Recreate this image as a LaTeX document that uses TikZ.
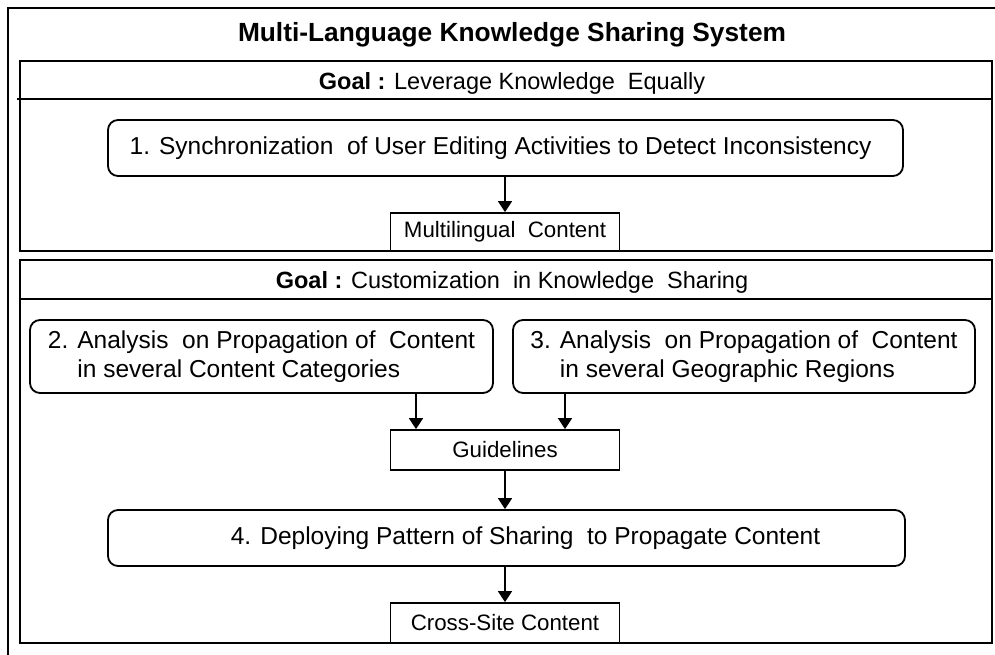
\documentclass[tikz,border=0pt]{standalone}
\usepackage{fontspec}
\setmainfont{Liberation Sans}
\usetikzlibrary{arrows.meta}
\begin{document}
\begin{tikzpicture}[x=1pt,y=-1pt,
  frame/.style={draw=black,line width=1.8pt},
  rbox/.style={draw=black,line width=1.8pt,rounded corners=10pt,inner sep=0pt,align=left,
    font=\fontsize{24.5}{29}\selectfont},
  sbox/.style={draw=black,line width=1.8pt,fill=white,inner sep=0pt,
    minimum width=229pt,minimum height=39pt,font=\fontsize{22.3}{26}\selectfont},
  lbl/.style={inner sep=0pt,font=\fontsize{23.5}{28}\selectfont},
  arr/.style={line width=1.8pt,-{Triangle[width=14pt,length=11pt]}}]
\useasboundingbox (0,0) rectangle (995,655);
% outer frame (cropped)
\draw[frame] (8,700) -- (8,8) -- (1010,8);
\node[inner sep=0pt,font=\fontsize{26.3}{31}\selectfont\bfseries] (title) at (512,35) {Multi-Language Knowledge Sharing System};
% section 1
\draw[frame] (20,61) rectangle (992,251);
\draw[frame] (17,99) -- (992,99);
\node[lbl] (g1) at (512,83) {\textbf{Goal :} Leverage Knowledge~ Equally};
\node[rbox,minimum width=795pt,minimum height=56pt,align=center] (b1) at (505.5,148)
  {1. Synchronization~ of User Editing Activities to Detect Inconsistency\hspace*{10pt}};
\node[sbox,minimum height=38pt] (ml) at (505,232) {Multilingual~ Content};
% section 2
\draw[frame] (20,260) rectangle (992,643);
\draw[frame] (20,299) -- (992,299);
\node[lbl] (g2) at (512,282) {\textbf{Goal :} Customization~ in Knowledge~ Sharing};
\node[rbox,minimum width=463pt,minimum height=73pt] (b2) at (261.5,356.5)
  {2. Analysis~ on Propagation of~ Content\\\phantom{2. }in several Content Categories};
\node[rbox,minimum width=462pt,minimum height=73pt] (b3) at (744,356.5)
  {3. Analysis~ on Propagation of~ Content\\\phantom{3. }in several Geographic Regions};
\node[sbox,minimum height=40pt] (gl) at (505,450) {Guidelines};
\node[rbox,minimum width=797pt,minimum height=56pt,align=center] (b4) at (506.5,538)
  {\hspace*{38pt}4. Deploying Pattern of Sharing~ to Propagate Content};
\node[sbox,minimum height=40pt] (cs) at (505,623) {Cross-Site Content};
% connectors
\coordinate (a2) at (416,0);
\coordinate (a3) at (565,0);
\draw[arr] (ml.north |- b1.south) -- (ml.north);
\draw[arr] (a2 |- b2.south) -- (a2 |- gl.north);
\draw[arr] (a3 |- b3.south) -- (a3 |- gl.north);
\draw[arr] (gl.south) -- (gl.south |- b4.north);
\draw[arr] (cs.north |- b4.south) -- (cs.north);
\end{tikzpicture}
\end{document}
